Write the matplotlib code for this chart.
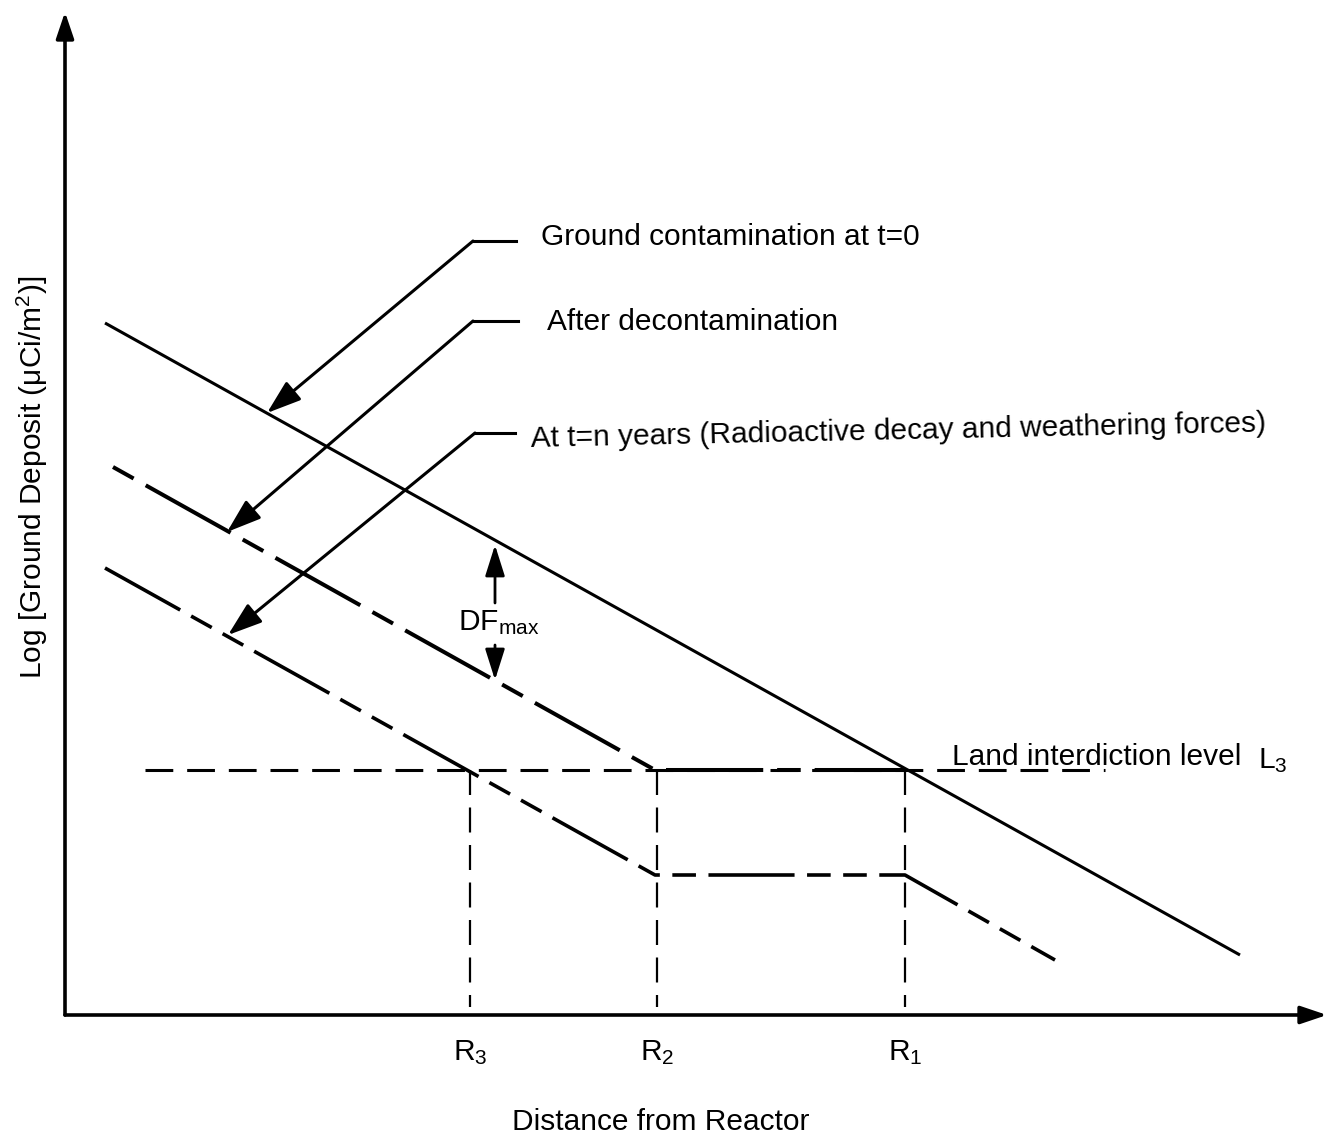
import matplotlib
matplotlib.use("Agg")
import matplotlib.pyplot as plt
from matplotlib.patches import FancyArrowPatch

plt.rcParams['font.family'] = ['Liberation Sans', 'DejaVu Sans']
plt.rcParams['mathtext.default'] = 'regular'
plt.rcParams['lines.scale_dashes'] = False

# schematic curves (distance, log deposit) in drawing units
dist_t0 = [40, 1175]
dep_t0 = [692, 60]

dist_decon = [48, 590, 840]
dep_decon = [548, 245, 245]

dist_tn = [40, 590, 840, 990]
dep_tn = [447, 140, 140, 55]

land_level = 245
land_x = [80, 1040]

r_names = ['R$_3$', 'R$_2$', 'R$_1$']
r_dist = [405, 592, 840]

# leader labels: text, text position, elbow, arrow tip
leader_text = ['Ground contamination at t=0',
               'After decontamination',
               'At t=n years (Radioactive decay and weathering forces)']
leader_text_xy = [(476, 778), (482, 693), (466, 576)]
leader_elbow = [(408, 774), (408, 694), (410, 582)]
leader_end = [451, 453, 450]
leader_tip = [(202, 602), (162, 483), (163, 380)]

fs = 21.5

fig = plt.figure(figsize=(13.31, 11.38), dpi=100)
ax = fig.add_axes([0, 0, 1, 1])
ax.set_xlim(-65, 1266)
ax.set_ylim(-123, 1015)
ax.axis('off')


def arrow(tail, tip, lw, hl, hw, ms=20):
    a = FancyArrowPatch(tail, tip, arrowstyle=f'-|>,head_length={hl},head_width={hw}',
                        mutation_scale=ms, lw=lw, color='black', fc='black',
                        shrinkA=0, shrinkB=0, zorder=5)
    ax.add_patch(a)


# axes with arrowheads
arrow((0, 0), (0, 1003), 2.6, 0.8, 0.27)
arrow((0, 0), (1262, 0), 2.6, 0.8, 0.27)

# ground contamination at t=0
ax.plot(dist_t0, dep_t0, color='black', lw=2.2, solid_capstyle='butt')

# after decontamination
ax.plot(dist_decon, dep_decon, color='black', lw=2.9,
        linestyle=(80, (70, 10, 17, 10)), dash_capstyle='butt')

# at t = n years
ax.plot(dist_tn, dep_tn, color='black', lw=2.6,
        linestyle=(0, (62, 9, 17, 9, 17, 9)), dash_capstyle='butt')

# land interdiction level
ax.plot(land_x, [land_level, land_level], color='black', lw=2.2,
        linestyle=(0, (20, 10)), dash_capstyle='butt')

# vertical markers for R1, R2, R3
for r in r_dist:
    ax.plot([r, r], [land_level, 8], color='black', lw=1.6,
            linestyle=(0, (18, 9)), dash_capstyle='butt')

for name, r in zip(r_names, r_dist):
    ax.text(r, -38, name, ha='center', va='center', fontsize=fs)

# leader lines with arrows
for txt, txy, elbow, xend, tip in zip(leader_text, leader_text_xy, leader_elbow,
                                      leader_end, leader_tip):
    ax.plot([elbow[0], xend], [elbow[1], elbow[1]], color='black', lw=2.2)
    arrow(elbow, tip, 2.2, 1.05, 0.36)
    rot = 1.2 if txt.startswith('At') else 0
    ax.text(txy[0], txy[1], txt, ha='left', va='center', fontsize=fs,
            rotation=rot, rotation_mode='anchor')

# decontamination factor
arrow((430, 412), (430, 470), 2.0, 0.95, 0.3)
arrow((430, 370), (430, 335), 2.0, 0.95, 0.3)
ax.text(393, 392, 'DF$_{max}$', ha='left', va='center', fontsize=fs)

ax.text(887, 258, 'Land interdiction level', ha='left', va='center', fontsize=fs)
ax.text(1193, 254, 'L$_3$', ha='left', va='center', fontsize=fs)

ax.text(596, -107, 'Distance from Reactor', ha='center', va='center', fontsize=fs)
ax.text(-33, 538, 'Log [Ground Deposit (μCi/m$^2$)]', ha='center', va='center',
        fontsize=fs, rotation=90)

fig.savefig('out.png', dpi=100, facecolor='white')
